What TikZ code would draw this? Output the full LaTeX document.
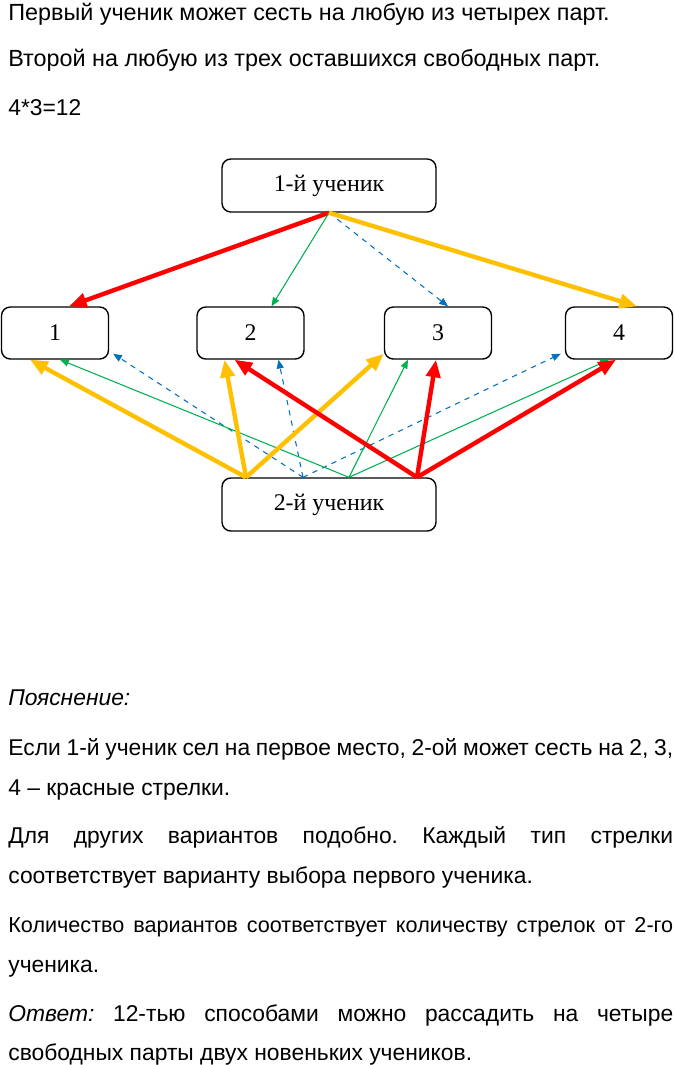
\documentclass[tikz,border=0pt]{standalone}
\usepackage{fontspec}
\setmainfont{Liberation Sans}
\newfontfamily\boxfont{Liberation Serif}
\usetikzlibrary{arrows.meta,positioning,calc}
\definecolor{Red}{HTML}{FF0000}
\definecolor{Gold}{HTML}{FFC000}
\definecolor{Green}{HTML}{00B050}
\definecolor{Blue}{HTML}{0070C0}
\frenchspacing

\begin{document}
\begin{tikzpicture}[
        %Environment Cfg. (1 unit = 1 px of the page)
        x=0.02cm, y=-0.02cm,
        font=\fontsize{13}{15}\selectfont,
        %Environment Styles.
        txt/.style={anchor=base west, inner sep=0pt},
        sBox/.style={
            rectangle,
            draw,
            line width=0.8pt,
            rounded corners=5pt,
            minimum width=4.28cm,
            minimum height=1.06cm,
            font=\boxfont\fontsize{13.6}{15}\selectfont
        },
        dBox/.style={sBox, minimum width=2.14cm, minimum height=1.04cm},
        fat/.style={line width=2.5pt, -{Triangle[length=10pt,width=8pt]}},
        slim/.style={line width=0.6pt, -{Triangle[length=5pt,width=4pt]}},
    ]
    \fill[white] (0,0) rectangle (675,1065);
    \useasboundingbox (0,0) rectangle (675,1065);

    %Task text.
    \node[txt] (l1) at (8,20) {\fontsize{13.3}{15}\selectfont Первый ученик может сесть на любую из четырех парт.};
    \node[txt] (l2) at (8,66) {\fontsize{13.3}{15}\selectfont Второй на любую из трех оставшихся свободных парт.};
    \node[txt] (l3) at (8,115) {4*3=12};

    %Pupils and desks.
    \node[sBox] (st1) at (329,185.5) {1-й ученик};
    \node[dBox] (d1) at (55,333) {1};
    \node[dBox] (d2) at (250.5,333) {2};
    \node[dBox] (d3) at (438,333) {3};
    \node[dBox] (d4) at (619,333) {4};
    \node[sBox] (st2) at (329,504.5) {2-й ученик};

    %First pupil: one arrow type per desk.
    \draw[fat, Red] (st1.south) -- ($(d1.north)+(14,0)$);
    \draw[slim, Green] (st1.south) -- ($(d2.north)+(21,0)$);
    \draw[slim, Blue, dashed] (st1.south) -- ($(d3.north)+(10,0)$);
    \draw[fat, Gold] (st1.south) -- ($(d4.north)+(18,0)$);

    %Second pupil: the three desks left free.
    \coordinate (yS) at ($(st2.north)+(-83,0)$);
    \coordinate (bS) at ($(st2.north)+(-26,0)$);
    \coordinate (gS) at ($(st2.north)+(20,0)$);
    \coordinate (rS) at ($(st2.north)+(88,0)$);

    \draw[slim, Blue, dashed] (bS) -- ($(d1.south east)+(4,-6)$);
    \draw[slim, Blue, dashed] (bS) -- ($(d2.south)+(28,0)$);
    \draw[slim, Blue, dashed] (bS) -- ($(d4.south west)+(-4,-6)$);

    \draw[slim, Green] (gS) -- ($(d1.south)+(5,0)$);
    \draw[slim, Green] (gS) -- ($(d3.south)+(-30,0)$);
    \draw[slim, Green] (gS) -- ($(d4.south)+(-10,0)$);

    \draw[fat, Gold] (yS) -- ($(d1.south)+(-25,0)$);
    \draw[fat, Gold] (yS) -- ($(d2.south)+(-26,0)$);
    \draw[fat, Gold] (yS) -- ($(d3.south west)+(0,-6)$);

    \draw[fat, Red] (rS) -- ($(d2.south)+(-16,0)$);
    \draw[fat, Red] (rS) -- ($(d3.south)+(-2,0)$);
    \draw[fat, Red] (rS) -- ($(d4.south)+(-3,0)$);

    %Explanation.
    \node[txt] (e0) at (8,705) {\itshape Пояснение:};
    \node[txt] (e1) at (8,755) {\makebox[13.3cm][s]{Если 1-й ученик сел на первое место, 2-ой может сесть на 2, 3,}};
    \node[txt] (e2) at (8,795) {4 – красные стрелки.};
    \node[txt] (e3) at (8,843) {\makebox[13.3cm][s]{Для других вариантов подобно. Каждый тип стрелки}};
    \node[txt] (e4) at (8,883) {соответствует варианту выбора первого ученика.};
    \node[txt] (e5) at (8,932) {\fontsize{12.3}{15}\selectfont\makebox[13.3cm][s]{Количество вариантов соответствует количеству стрелок от 2-го}};
    \node[txt] (e6) at (8,972) {ученика.};
    \node[txt] (e7) at (8,1021) {\makebox[13.3cm][s]{\textit{Ответ:} 12-тью способами можно рассадить на четыре}};
    \node[txt] (e8) at (8,1060) {свободных парты двух новеньких учеников.};
\end{tikzpicture}
\end{document}
